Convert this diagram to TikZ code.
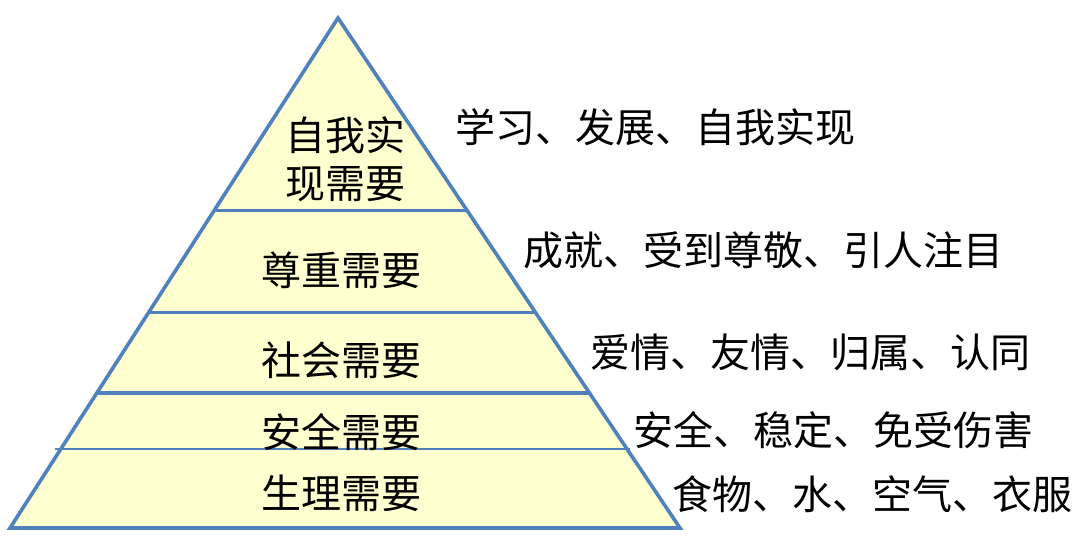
\documentclass[tikz,border=0pt]{standalone}
\usepackage{fontspec}
\setmainfont{Noto Sans CJK SC}
\usepackage{xcolor}
\usepackage{tikz}
\usetikzlibrary{positioning, calc}
\definecolor{edgeblue}{HTML}{4F81BD}
\definecolor{levelfill}{HTML}{FFFFCF}
\newcommand{\bigcjk}{\fontsize{40}{48}\selectfont}

\begin{document}
\begin{tikzpicture}[x=1pt, y=-1pt,
        level/.style={font=\bigcjk, align=center, inner sep=0pt},
        need/.style={font=\bigcjk, anchor=west, inner sep=0pt},
        divider/.style={draw=edgeblue, line width=3.4pt}]
    \useasboundingbox (0,0) rectangle (1078,535);
    % pyramid
    \coordinate (apex) at (338,18);
    \coordinate (baseL) at (10,528);
    \coordinate (baseR) at (680,528);
    \draw[edgeblue, fill=levelfill, line width=3.6pt, line join=miter]
        (apex) -- (baseR) -- (baseL) -- cycle;
    % level dividers
    \draw[divider] ($(apex)!0.378!(baseL)$) -- ($(apex)!0.378!(baseR)$);
    \draw[divider] ($(apex)!0.578!(baseL)$) -- ($(apex)!0.578!(baseR)$);
    \draw[divider] ($(apex)!0.735!(baseL)$) -- ($(apex)!0.735!(baseR)$);
    \draw[divider, line width=2.2pt] (55,449) -- (630,449);
    % level names
    \node[level] (self) at (345,159) {自我实\\现需要};
    \node[level] (esteem) at (341,270) {尊重需要};
    \node[level] (social) at (341,360) {社会需要};
    \node[level] (safety) at (341,432) {安全需要};
    \node[level] (body) at (341,493) {生理需要};
    % what each level means
    \node[need] (selfN) at (455,127) {学习、发展、自我实现};
    \node[need] (esteemN) at (523,250) {成就、受到尊敬、引人注目};
    \node[need] (socialN) at (590,352) {爱情、友情、归属、认同};
    \node[need] (safetyN) at (633,430) {安全、稳定、免受伤害};
    \node[need] (bodyN) at (672,494) {食物、水、空气、衣服};
\end{tikzpicture}
\end{document}
